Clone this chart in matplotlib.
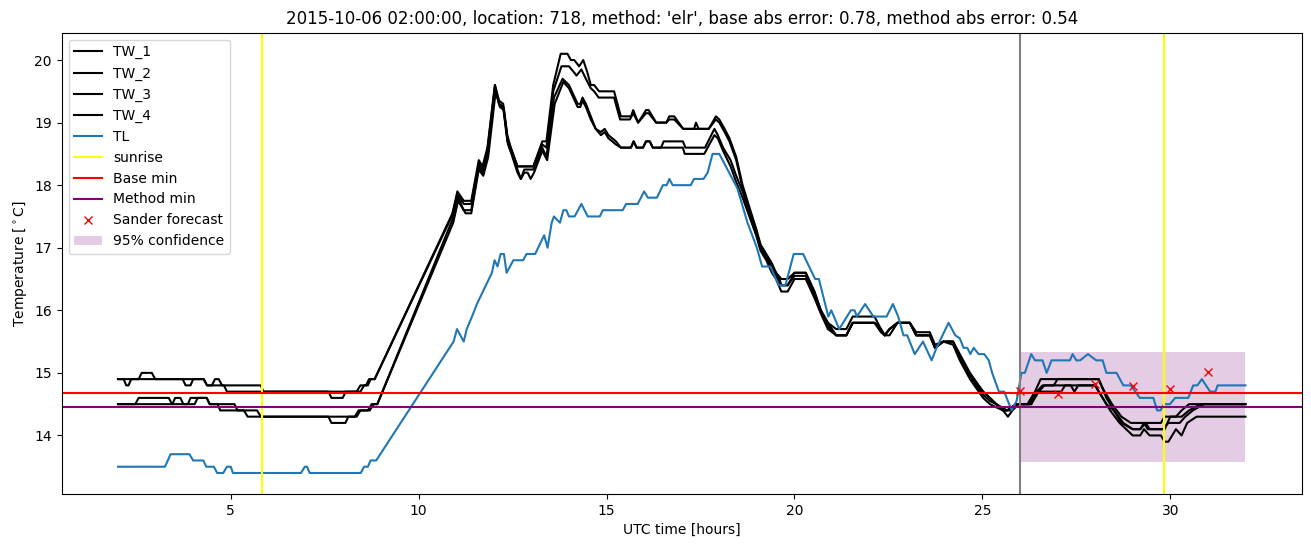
import matplotlib
matplotlib.use("Agg")
import matplotlib.pyplot as plt
import numpy as np

# (hour, temperature) pairs
tw1 = [(2.0, 14.9), (2.55, 14.9), (2.63, 15.0), (2.9, 15.0), (2.99, 14.9), (4.28, 14.9), (4.37, 14.8),
       (5.8, 14.8), (5.87, 14.7), (8.35, 14.7), (8.45, 14.8), (8.6, 14.8), (8.68, 14.9), (8.83, 14.9),
       (10.9, 17.55), (11.03, 17.9), (11.2, 17.75), (11.4, 17.75), (11.6, 18.4), (11.7, 18.3), (11.83, 18.6),
       (12.03, 19.6), (12.14, 19.35), (12.25, 19.3), (12.36, 18.8), (12.45, 18.6), (12.63, 18.3),
       (13.05, 18.3), (13.29, 18.7), (13.4, 18.7), (13.58, 19.6), (13.78, 20.1), (13.96, 20.1),
       (14.05, 20.0), (14.14, 20.0), (14.27, 19.9), (14.38, 20.0), (14.49, 19.8), (14.58, 19.6),
       (14.67, 19.6), (14.8, 19.5), (15.2, 19.5), (15.38, 19.1), (15.65, 19.1), (15.71, 19.2),
       (15.84, 19.0), (16.05, 19.2), (16.12, 19.2), (16.32, 19.0), (16.59, 19.0), (16.67, 19.1),
       (16.8, 19.1), (17.04, 18.9), (17.33, 18.9), (17.38, 19.0), (17.45, 18.9), (17.72, 18.9),
       (17.91, 19.1), (18.0, 19.05), (18.14, 18.9), (18.27, 18.75), (18.45, 18.45), (18.62, 18.0),
       (18.8, 17.65), (18.98, 17.3), (19.1, 17.05), (19.25, 16.9), (19.4, 16.75), (19.51, 16.6),
       (19.65, 16.5), (19.82, 16.5), (20.0, 16.6), (20.3, 16.6), (20.53, 16.3), (20.7, 16.0),
       (20.89, 15.8), (21.0, 15.75), (21.11, 15.7), (21.38, 15.7), (21.55, 15.9), (22.13, 15.9),
       (22.3, 15.7), (22.4, 15.6), (22.53, 15.7), (22.74, 15.8), (23.07, 15.8), (23.24, 15.6),
       (23.6, 15.6), (23.74, 15.4), (23.96, 15.5), (24.22, 15.5), (24.4, 15.3), (24.67, 15.0),
       (25.02, 14.7), (25.2, 14.6), (25.37, 14.5), (25.66, 14.4), (25.9, 14.5), (26.2, 14.5),
       (26.4, 14.7), (26.55, 14.9), (28.08, 14.9), (28.25, 14.7), (28.45, 14.5), (28.7, 14.3),
       (28.95, 14.2), (29.75, 14.2), (29.85, 14.3), (30.15, 14.3), (30.3, 14.4), (30.5, 14.5), (32.0, 14.5)]

tw2 = [(2.0, 14.9), (2.15, 14.9), (2.22, 14.8), (2.28, 14.8), (2.35, 14.9), (3.72, 14.9), (3.8, 14.8),
       (3.93, 14.8), (4.0, 14.9), (4.28, 14.9), (4.37, 14.8), (4.5, 14.8), (4.58, 14.9), (4.68, 14.9),
       (4.77, 14.8), (4.82, 14.8), (4.9, 14.7), (7.6, 14.7), (7.68, 14.6), (7.98, 14.6), (8.06, 14.7),
       (8.45, 14.7), (8.55, 14.8), (8.65, 14.8), (8.72, 14.9), (8.83, 14.9),
       (10.88, 17.5), (11.03, 17.85), (11.2, 17.7), (11.4, 17.7), (11.6, 18.35), (11.7, 18.25),
       (11.83, 18.55), (12.03, 19.6), (12.14, 19.3), (12.25, 19.25), (12.36, 18.75), (12.45, 18.6),
       (12.63, 18.3), (13.05, 18.3), (13.29, 18.65), (13.4, 18.6), (13.58, 19.5), (13.8, 19.9),
       (14.0, 19.9), (14.14, 19.8), (14.2, 19.75), (14.33, 19.85), (14.45, 19.7), (14.58, 19.55),
       (14.67, 19.5), (14.79, 19.4), (15.2, 19.4), (15.36, 19.05), (15.62, 19.05), (15.71, 19.15),
       (15.84, 19.0), (16.05, 19.15), (16.12, 19.15), (16.32, 19.0), (16.59, 19.0), (16.67, 19.05),
       (16.8, 19.05), (17.04, 18.9), (17.72, 18.9), (17.91, 19.05), (18.0, 19.0), (18.14, 18.85),
       (18.27, 18.7), (18.45, 18.4), (18.62, 17.95), (18.8, 17.6), (18.98, 17.3), (19.1, 17.0),
       (19.25, 16.85), (19.4, 16.7), (19.51, 16.6), (19.6, 16.5), (19.65, 16.4), (19.82, 16.4),
       (20.0, 16.6), (20.3, 16.6), (20.53, 16.3), (20.7, 16.0), (20.89, 15.8), (21.0, 15.7),
       (21.11, 15.6), (21.38, 15.6), (21.55, 15.8), (22.13, 15.8), (22.3, 15.7), (22.4, 15.6),
       (22.53, 15.7), (22.74, 15.8), (23.07, 15.8), (23.24, 15.6), (23.6, 15.6), (23.74, 15.4),
       (23.96, 15.5), (24.22, 15.5), (24.4, 15.25), (24.67, 14.95), (25.02, 14.7), (25.2, 14.6),
       (25.37, 14.5), (25.55, 14.4), (25.66, 14.4), (25.77, 14.4), (25.9, 14.5), (26.3, 14.5),
       (26.45, 14.7), (26.6, 14.8), (26.9, 14.8), (27.0, 14.9), (28.1, 14.9), (28.3, 14.6),
       (28.5, 14.4), (28.7, 14.2), (29.0, 14.1), (29.2, 14.1), (29.3, 14.2), (29.4, 14.1),
       (29.85, 14.1), (30.0, 14.3), (30.3, 14.3), (30.5, 14.4), (30.8, 14.5), (32.0, 14.5)]

tw3 = [(2.0, 14.5), (2.46, 14.5), (2.55, 14.6), (3.35, 14.6), (3.44, 14.5), (4.04, 14.5), (4.12, 14.6),
       (4.36, 14.6), (4.44, 14.5), (5.1, 14.5), (5.18, 14.4), (5.7, 14.4), (5.8, 14.3), (8.3, 14.3),
       (8.4, 14.4), (8.65, 14.4), (8.75, 14.5), (8.9, 14.5),
       (10.9, 17.45), (11.05, 17.8), (11.2, 17.6), (11.4, 17.6), (11.6, 18.3), (11.7, 18.2),
       (11.83, 18.5), (12.03, 19.55), (12.14, 19.3), (12.25, 19.25), (12.36, 18.7), (12.45, 18.55),
       (12.63, 18.25), (12.72, 18.1), (12.81, 18.25), (13.05, 18.25), (13.29, 18.6), (13.4, 18.45),
       (13.6, 19.4), (13.83, 19.7), (14.0, 19.6), (14.23, 19.3), (14.3, 19.3), (14.36, 19.4),
       (14.45, 19.3), (14.58, 19.1), (14.71, 18.9), (14.85, 18.85), (14.95, 18.9), (15.05, 18.8),
       (15.25, 18.7), (15.38, 18.6), (15.65, 18.6), (15.72, 18.7), (15.8, 18.6), (15.97, 18.6),
       (16.05, 18.7), (16.15, 18.7), (16.23, 18.6), (16.45, 18.6), (16.52, 18.7), (17.03, 18.7),
       (17.1, 18.6), (17.62, 18.6), (17.87, 18.9), (17.96, 18.8), (18.1, 18.6), (18.3, 18.4),
       (18.45, 18.15), (18.62, 17.9), (18.8, 17.55), (18.98, 17.25), (19.1, 17.0), (19.25, 16.85),
       (19.4, 16.65), (19.51, 16.55), (19.65, 16.4), (19.82, 16.4), (20.0, 16.55), (20.3, 16.55),
       (20.53, 16.25), (20.7, 16.0), (20.89, 15.75), (21.11, 15.6), (21.38, 15.6), (21.55, 15.8),
       (22.13, 15.8), (22.3, 15.7), (22.4, 15.6), (22.53, 15.6), (22.74, 15.8), (23.07, 15.8),
       (23.24, 15.65), (23.6, 15.65), (23.74, 15.45), (23.96, 15.5), (24.22, 15.5), (24.4, 15.25),
       (24.67, 14.95), (25.02, 14.65), (25.2, 14.55), (25.37, 14.5), (25.55, 14.4), (25.66, 14.4),
       (25.77, 14.45), (25.9, 14.5), (26.25, 14.5), (26.45, 14.7), (27.1, 14.7), (27.2, 14.8),
       (27.35, 14.8), (27.45, 14.7), (27.55, 14.8), (28.0, 14.8), (28.3, 14.5), (28.5, 14.4),
       (28.75, 14.2), (29.0, 14.1), (29.2, 14.1), (29.35, 14.2), (29.45, 14.1), (29.8, 14.1),
       (29.95, 14.2), (30.25, 14.2), (30.4, 14.3), (30.6, 14.4), (30.9, 14.5), (32.0, 14.5)]

tw4 = [(2.0, 14.5), (3.45, 14.5), (3.52, 14.6), (3.66, 14.6), (3.74, 14.5), (3.86, 14.5), (3.93, 14.6),
       (4.36, 14.6), (4.44, 14.5), (4.65, 14.5), (4.72, 14.4), (5.35, 14.4), (5.45, 14.3), (7.6, 14.3),
       (7.68, 14.2), (8.05, 14.2), (8.13, 14.3), (8.35, 14.3), (8.45, 14.4), (8.7, 14.4), (8.8, 14.5),
       (8.9, 14.5),
       (10.92, 17.4), (11.05, 17.75), (11.25, 17.55), (11.4, 17.55), (11.6, 18.25), (11.72, 18.15),
       (11.85, 18.45), (12.05, 19.5), (12.16, 19.25), (12.27, 19.2), (12.38, 18.65), (12.47, 18.5),
       (12.63, 18.2), (12.72, 18.1), (12.81, 18.2), (12.9, 18.2), (12.98, 18.1), (13.07, 18.2),
       (13.29, 18.55), (13.42, 18.4), (13.62, 19.3), (13.85, 19.65), (14.0, 19.55), (14.23, 19.25),
       (14.3, 19.25), (14.36, 19.35), (14.45, 19.25), (14.58, 19.05), (14.71, 18.9), (14.85, 18.8),
       (14.95, 18.85), (15.05, 18.75), (15.25, 18.65), (15.38, 18.6), (15.65, 18.6), (15.72, 18.7),
       (15.8, 18.6), (15.97, 18.6), (16.05, 18.7), (16.15, 18.7), (16.23, 18.6), (17.03, 18.6),
       (17.08, 18.5), (17.6, 18.5), (17.87, 18.8), (17.96, 18.75), (18.1, 18.55), (18.3, 18.3),
       (18.45, 18.05), (18.62, 17.8), (18.8, 17.5), (18.98, 17.2), (19.1, 16.95), (19.25, 16.8),
       (19.4, 16.6), (19.51, 16.5), (19.65, 16.3), (19.82, 16.3), (20.0, 16.5), (20.3, 16.5),
       (20.53, 16.2), (20.7, 15.95), (20.89, 15.7), (21.11, 15.6), (21.38, 15.6), (21.55, 15.8),
       (22.13, 15.8), (22.3, 15.65), (22.4, 15.6), (22.53, 15.7), (22.74, 15.8), (23.07, 15.8),
       (23.24, 15.6), (23.6, 15.6), (23.74, 15.4), (23.96, 15.5), (24.22, 15.45), (24.4, 15.2),
       (24.67, 14.9), (25.02, 14.6), (25.2, 14.5), (25.37, 14.45), (25.55, 14.4), (25.68, 14.3),
       (25.8, 14.4), (25.96, 14.5), (26.3, 14.5), (26.5, 14.7), (26.65, 14.8), (28.0, 14.8),
       (28.2, 14.6), (28.4, 14.4), (28.65, 14.2), (29.0, 14.0), (29.2, 14.0), (29.3, 14.1),
       (29.45, 14.0), (29.75, 14.0), (29.85, 13.9), (29.95, 13.9), (30.05, 14.0), (30.15, 14.1),
       (30.3, 14.0), (30.45, 14.2), (30.7, 14.3), (32.0, 14.3)]

tl = [(2.0, 13.5), (3.25, 13.5), (3.4, 13.7), (3.9, 13.7), (4.0, 13.6), (4.27, 13.6), (4.35, 13.5),
      (4.55, 13.5), (4.64, 13.4), (4.8, 13.4), (4.9, 13.5), (5.0, 13.5), (5.06, 13.4), (6.87, 13.4),
      (6.97, 13.5), (7.03, 13.5), (7.1, 13.4), (8.46, 13.4), (8.55, 13.5), (8.65, 13.5), (8.72, 13.6),
      (8.87, 13.6), (10.93, 15.5), (11.02, 15.7), (11.2, 15.5), (11.28, 15.7), (11.42, 15.9),
      (11.55, 16.1), (11.95, 16.6), (12.02, 16.8), (12.1, 16.7), (12.18, 16.9), (12.27, 16.9),
      (12.34, 16.6), (12.52, 16.8), (12.78, 16.8), (12.87, 16.9), (13.1, 16.9), (13.34, 17.2),
      (13.43, 17.0), (13.54, 17.4), (13.6, 17.5), (13.76, 17.4), (13.85, 17.6), (13.93, 17.6),
      (14.0, 17.5), (14.15, 17.5), (14.33, 17.7), (14.5, 17.5), (14.82, 17.5), (14.9, 17.6),
      (15.43, 17.6), (15.52, 17.7), (15.83, 17.7), (16.0, 17.9), (16.1, 17.8), (16.34, 17.8),
      (16.5, 18.0), (16.6, 18.0), (16.67, 18.1), (16.76, 18.0), (17.24, 18.0), (17.33, 18.1),
      (17.58, 18.1), (17.69, 18.2), (17.82, 18.5), (18.0, 18.5), (18.48, 17.95), (18.75, 17.4),
      (19.0, 17.0), (19.14, 16.7), (19.36, 16.7), (19.58, 16.4), (19.76, 16.4), (19.98, 16.9),
      (20.23, 16.9), (20.55, 16.5), (20.65, 16.5), (20.9, 15.9), (20.98, 16.0), (21.19, 15.7),
      (21.5, 16.0), (21.6, 16.0), (21.66, 15.9), (21.88, 16.1), (22.1, 15.9), (22.45, 15.9),
      (22.62, 16.1), (22.76, 15.9), (22.9, 15.6), (23.0, 15.6), (23.2, 15.3), (23.42, 15.5),
      (23.65, 15.2), (23.78, 15.4), (24.1, 15.8), (24.28, 15.6), (24.4, 15.55), (24.5, 15.4),
      (24.6, 15.4), (24.68, 15.3), (24.77, 15.4), (24.9, 15.3), (25.05, 15.3), (25.17, 15.2),
      (25.26, 15.0), (25.44, 14.7), (25.58, 14.7), (25.78, 14.4), (25.91, 14.55), (26.04, 15.0),
      (26.13, 15.0), (26.3, 15.3), (26.4, 15.2), (26.6, 15.2), (26.71, 15.0), (26.84, 15.2),
      (27.33, 15.2), (27.4, 15.3), (27.5, 15.2), (27.6, 15.2), (27.81, 15.3), (28.03, 15.2),
      (28.2, 15.2), (28.3, 15.0), (28.57, 15.0), (28.75, 14.8), (28.95, 14.8), (29.19, 14.6),
      (29.55, 14.6), (29.65, 14.4), (29.74, 14.4), (29.83, 14.5), (29.99, 14.5), (30.13, 14.6),
      (30.48, 14.6), (30.61, 14.8), (30.72, 14.8), (30.84, 14.9), (31.06, 14.7), (31.2, 14.7),
      (31.26, 14.8), (32.0, 14.8)]

sunrise = [5.82, 29.83]
now_hour = 26.0
base_min = 14.68
method_min = 14.45
forecast_hours = [26, 27, 28, 29, 30, 31]
forecast_temps = [14.71, 14.67, 14.83, 14.79, 14.75, 15.02]
conf_hours = [26.0, 32.0]
conf_low = 13.57
conf_high = 15.33

title = "2015-10-06 02:00:00, location: 718, method: 'elr', base abs error: 0.78, method abs error: 0.54"

fig = plt.figure(figsize=(13.11, 5.47), dpi=100)
ax = fig.add_axes([0.047, 0.097, 0.946, 0.843])

for name, series in [("TW_1", tw1), ("TW_2", tw2), ("TW_3", tw3), ("TW_4", tw4)]:
    arr = np.array(series)
    ax.plot(arr[:, 0], arr[:, 1], color="black", label=name)
arr = np.array(tl)
ax.plot(arr[:, 0], arr[:, 1], color="C0", label="TL")

ax.axvline(sunrise[0], color="yellow", label="sunrise")
ax.axvline(sunrise[1], color="yellow")
ax.axvline(now_hour, color="grey")
ax.axhline(base_min, color="red", label="Base min")
ax.axhline(method_min, color="purple", label="Method min")
ax.plot(forecast_hours, forecast_temps, "rx", label="Sander forecast")
ax.fill_between(conf_hours, conf_low, conf_high, color="purple", alpha=0.2, linewidth=0, label="95% confidence")

ax.set_title(title)
ax.set_xlabel("UTC time [hours]")
ax.set_ylabel(r"Temperature [$^\circ$C]")
ax.legend(loc="upper left")

fig.savefig("out.png", dpi=100)
